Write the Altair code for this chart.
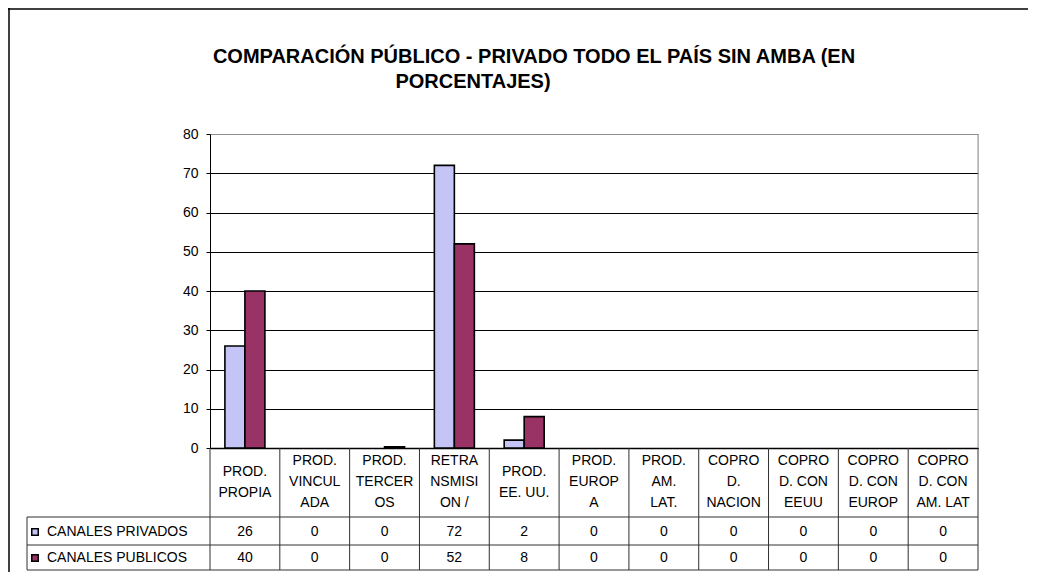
import altair as alt
import pandas as pd

categories = ["PROD. PROPIA", "PROD. VINCULADA", "PROD. TERCEROS", "RETRANSMISION /",
              "PROD. EE. UU.", "PROD. EUROPA", "PROD. AM. LAT.", "COPROD. NACION",
              "COPROD. CON EEUU", "COPROD. CON EUROP", "COPROD. CON AM. LAT"]
header_labels = ["PROD.\nPROPIA", "PROD.\nVINCUL\nADA", "PROD.\nTERCER\nOS", "RETRA\nNSMISI\nON /",
                 "PROD.\nEE. UU.", "PROD.\nEUROP\nA", "PROD.\nAM.\nLAT.", "COPRO\nD.\nNACION",
                 "COPRO\nD. CON\nEEUU", "COPRO\nD. CON\nEUROP", "COPRO\nD. CON\nAM. LAT"]
series = ["CANALES PRIVADOS", "CANALES PUBLICOS"]
privados = [26, 0, 0, 72, 2, 0, 0, 0, 0, 0, 0]
publicos = [40, 0, 0.3, 52, 8, 0, 0, 0, 0, 0, 0]
colors = ["#C4C4F6", "#993366"]
y_ticks = [0, 10, 20, 30, 40, 50, 60, 70, 80]
title_lines = ["COMPARACIÓN PÚBLICO - PRIVADO TODO EL PAÍS SIN AMBA (EN", "PORCENTAJES)"]

FONT = "Liberation Sans"
W, H = 768, 314
PAD = {"left": 202, "top": 126, "right": 50, "bottom": 124}
TFS = 14

rows = []
for s, vals in zip(series, [privados, publicos]):
    for c, v in zip(categories, vals):
        rows.append({"cat": c, "series": s, "value": v})
df = pd.DataFrame(rows)
df_cat = pd.DataFrame({"cat": categories, "label": header_labels})
one = pd.DataFrame({"a": [0]})

xenc = alt.X("cat:N", sort=categories,
             scale=alt.Scale(paddingInner=0, paddingOuter=0),
             axis=alt.Axis(labels=False, ticks=False, title=None, grid=False,
                           domain=True, domainColor="black", domainWidth=1.5))
fill_scale = alt.Scale(domain=series, range=colors)

bars = alt.Chart(df).transform_filter("datum.value > 0").mark_bar(
    stroke="black", strokeWidth=1.6
).encode(
    x=xenc,
    xOffset=alt.XOffset("series:N", sort=series,
                        scale=alt.Scale(paddingInner=0, paddingOuter=0.745)),
    y=alt.Y("value:Q", scale=alt.Scale(domain=[0, 80], nice=False),
            axis=alt.Axis(values=y_ticks, title=None, tickSize=4, labelPadding=8,
                          grid=True,
                          gridColor={"condition": {"test": "datum.value === 80", "value": "#909090"},
                                     "value": "black"},
                          gridWidth=1, domainColor="black", tickColor="black",
                          labelColor="black", labelFont=FONT, labelFontSize=14)),
    fill=alt.Fill("series:N", scale=fill_scale, legend=None),
)

xplain = alt.X("cat:N", sort=categories)

layers = [bars]
# header labels: 3-line and 2-line groups, first-line positions so that each block is centred
for nlines, ytop in [(3, 327), (2, 337.5)]:
    layers.append(alt.Chart(df_cat).transform_filter(
        f"length(split(datum.label, '\\n')) == {nlines}"
    ).mark_text(
        lineBreak="\n", font=FONT, fontSize=TFS, baseline="middle", lineHeight=21, color="black"
    ).encode(x=xplain, y=alt.value(ytop), text="label:N"))

row_y = [398, 424]
for s, ry in zip(series, row_y):
    vals = alt.Chart(df).transform_filter(alt.datum.series == s).mark_text(
        font=FONT, fontSize=TFS, baseline="middle", color="black"
    ).encode(x=xplain, y=alt.value(ry), text=alt.Text("value:Q", format=".0f"))
    lab = alt.Chart(pd.DataFrame({"series": [s]})).mark_text(
        font=FONT, fontSize=TFS, baseline="middle", align="left", color="black"
    ).encode(x=alt.value(-163), y=alt.value(ry), text="series:N")
    sq = alt.Chart(pd.DataFrame({"series": [s]})).mark_square(
        size=42, stroke="black", strokeWidth=1.5, opacity=1
    ).encode(x=alt.value(-175), y=alt.value(ry), fill=alt.Fill("series:N", scale=fill_scale, legend=None))
    layers += [vals, lab, sq]

LINE = "#303030"
vlines = alt.Chart(df_cat).mark_rule(color=LINE, strokeWidth=1).encode(
    x=alt.X("cat:N", sort=categories, bandPosition=0), y=alt.value(314), y2=alt.value(436))
layers.append(vlines)
layers.append(alt.Chart(one).mark_rule(color=LINE).encode(
    x=alt.value(W), y=alt.value(314), y2=alt.value(436)))
layers.append(alt.Chart(one).mark_rule(color="#909090").encode(
    x=alt.value(W), y=alt.value(0), y2=alt.value(314)))
for yy in [383, 411, 436]:
    layers.append(alt.Chart(one).mark_rule(color=LINE).encode(
        x=alt.value(-183), x2=alt.value(W), y=alt.value(yy)))
layers.append(alt.Chart(one).mark_rule(color=LINE).encode(
    x=alt.value(-183), y=alt.value(383), y2=alt.value(436)))

# outer frame
layers.append(alt.Chart(one).mark_rule(color="black", strokeWidth=1.5).encode(
    x=alt.value(-201), y=alt.value(-126), y2=alt.value(H + PAD["bottom"])))
layers.append(alt.Chart(one).mark_rule(color="black", strokeWidth=1.5).encode(
    x=alt.value(-202), x2=alt.value(W + PAD["right"]), y=alt.value(-125)))

# title
for txt, tx, ty in zip(title_lines, [324, 263], [-71, -46]):
    layers.append(alt.Chart(one).mark_text(
        font=FONT, fontSize=20, fontWeight="bold", align="center", baseline="alphabetic", color="black"
    ).encode(x=alt.value(tx), y=alt.value(ty), text=alt.value(txt)))

chart = alt.layer(*layers).properties(
    width=W, height=H, padding=PAD,
    autosize=alt.AutoSizeParams(type="none"),
).configure_view(stroke=None).configure(background="white")

chart.save("out.html", embed_options={"renderer": "svg", "actions": False})
